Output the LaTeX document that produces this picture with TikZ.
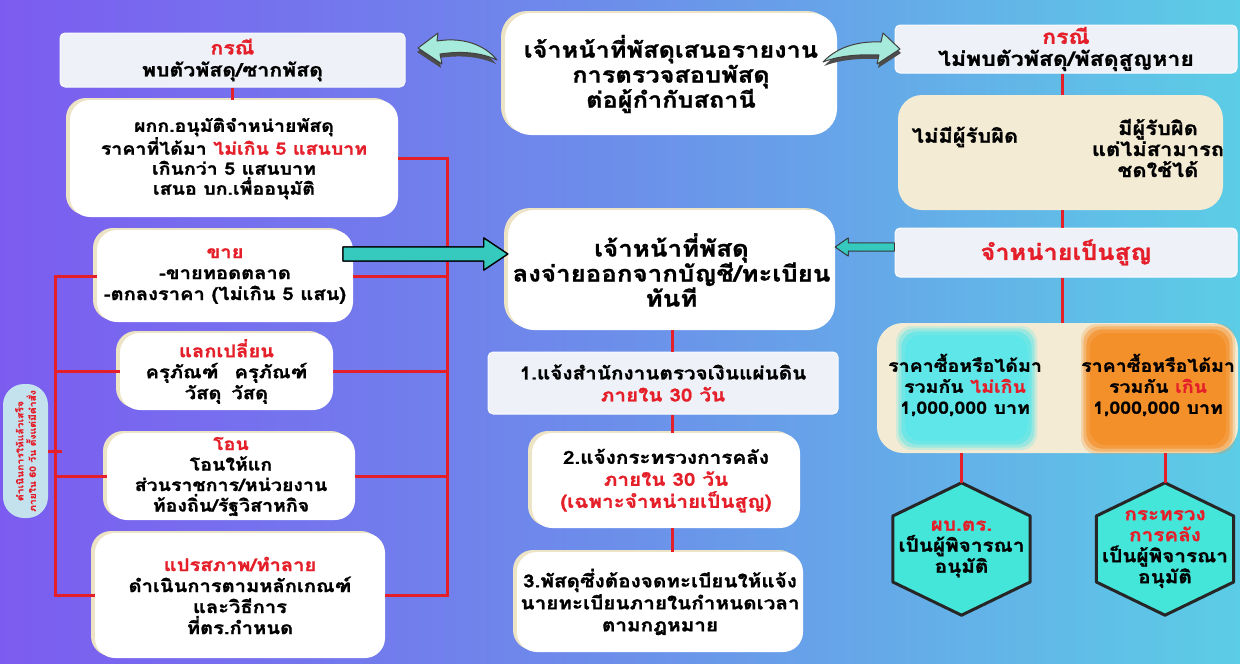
\documentclass[tikz,border=0pt]{standalone}
\usepackage{fontspec}
\newfontfamily\thai[Script=Thai, FakeStretch=1.15, BoldFeatures={FakeBold=1.2}]{Loma}
\usetikzlibrary{shadows,calc}
\definecolor{rd}{HTML}{E51F2A}
\definecolor{bgL}{HTML}{7C5CF0}
\definecolor{bgM}{HTML}{6C8FEA}
\definecolor{bgR}{HTML}{5CCDE6}
\definecolor{cream}{HTML}{EDE4C6}
\definecolor{lite}{HTML}{EEF2F8}
\definecolor{beige}{HTML}{F3EBD3}
\definecolor{tealA}{HTML}{A6EADB}
\definecolor{tealB}{HTML}{36C9BE}
\definecolor{hexc}{HTML}{45E6DA}
\definecolor{pillc}{HTML}{C3E2EE}
\definecolor{blobc}{HTML}{5EE6E8}
\definecolor{blobo}{HTML}{F4902A}
\newcommand{\fs}[2]{\fontsize{#1}{#2}\selectfont}
\begin{document}
\begin{tikzpicture}[x=1pt,y=-1pt,
  every node/.style={font=\thai\bfseries, align=center, text=black, inner sep=0pt},
  wbox/.style={fill=white, rounded corners=20pt,
     drop shadow={shadow xshift=-4pt, shadow yshift=2pt, fill=cream, opacity=1}},
  lbox/.style={fill=lite, draw=white!70!lite, line width=1pt, rounded corners=5pt},
  bbox/.style={fill=beige, rounded corners=24pt},
  redl/.style={draw=rd, line width=3pt},
  curarrow/.style={fill=tealA, draw=black!75, line width=1pt, line join=round},
]
\shade[left color=bgL, right color=bgR, middle color=bgM] (0,0) rectangle (1240,664);
\useasboundingbox (0,0) rectangle (1240,664);

% ---------- left column ----------
\node[lbox, minimum width=345, minimum height=54, font=\thai\bfseries\fs{18.5}{22}] (L1) at (232.5,60)
  {\textcolor{rd}{กรณี}\\พบตัวพัสดุ/ซากพัสดุ};
\node[wbox, minimum width=328, minimum height=117, font=\thai\bfseries\fs{17}{20}] (L2) at (234,158.5)
  {ผกก.อนุมัติจำหน่ายพัสดุ\\ราคาที่ได้มา \textcolor{rd}{ไม่เกิน 5 แสนบาท}\\เกินกว่า 5 แสนบาท\\เสนอ บก.เพื่ออนุมัติ};
\node[wbox, minimum width=256, minimum height=92, font=\thai\bfseries\fs{17.5}{21}] (Ls) at (225,276)
  {\textcolor{rd}{ขาย}\\-ขายทอดตลาด\\-ตกลงราคา (ไม่เกิน 5 แสน)};
\node[wbox, minimum width=213, minimum height=77, font=\thai\bfseries\fs{17.5}{21}] (Le) at (226.5,371.5)
  {\textcolor{rd}{แลกเปลี่ยน}\\ครุภัณฑ์\hspace{16pt}ครุภัณฑ์\\วัสดุ\hspace{10pt}วัสดุ};
\node[wbox, minimum width=248, minimum height=87, font=\thai\bfseries\fs{17}{20.5}] (Lt) at (231,476.5)
  {\textcolor{rd}{โอน}\\โอนให้แก\\ส่วนราชการ/หน่วยงาน\\ท้องถิ่น/รัฐวิสาหกิจ};
\node[wbox, minimum width=290, minimum height=125, font=\thai\bfseries\fs{17.5}{21}] (Ld) at (240,595.5)
  {\textcolor{rd}{แปรสภาพ/ทำลาย}\\ดำเนินการตามหลักเกณฑ์\\และวิธีการ\\ที่ตร.กำหนด};
\node[fill=pillc, rounded corners=21pt, rotate=90, minimum width=134, minimum height=45,
      text=rd, font=\thai\bfseries\fs{9}{12.5}] (pill) at (25.5,451)
  {ดำเนินการให้แล้วเสร็จ\\ภายใน 60 วัน ตั้งแต่มีคำสั่ง};

% red connectors left
\draw[redl] (L1.south) -- (L1.south |- L2.north);
\coordinate (bR) at (447,0);
\coordinate (bL) at (55,0);
\draw[redl] (L2.east) -| (bR |- Ld.east) -- (Ld.east);
\draw[redl] (Ls.east) -- (bR |- Ls.east);
\draw[redl] (Le.east) -- (bR |- Le.east);
\draw[redl] (Lt.east) -- (bR |- Lt.east);
\draw[redl] (Ls.west) -| (bL |- Ld.west) -- (Ld.west);
\draw[redl] (Le.west) -- (bL |- Le.west);
\draw[redl] (Lt.west) -- (bL |- Lt.west);
\draw[redl] (pill.south) -- ++(14,0);

% ---------- centre column ----------
\node[wbox, rounded corners=26pt, minimum width=332, minimum height=122, font=\thai\bfseries\fs{22}{25}] (C1) at (671,74)
  {เจ้าหน้าที่พัสดุเสนอรายงาน\\การตรวจสอบพัสดุ\\ต่อผู้กำกับสถานี};
\node[wbox, rounded corners=26pt, minimum width=327, minimum height=120, font=\thai\bfseries\fs{22.5}{25}] (C2) at (671.5,270)
  {เจ้าหน้าที่พัสดุ\\ลงจ่ายออกจากบัญชี/ทะเบียน\\ทันที};
\node[lbox, minimum width=350, minimum height=62, font=\thai\bfseries\fs{18}{22}] (C3) at (663,383)
  {1.แจ้งสำนักงานตรวจเงินแผ่นดิน\\\textcolor{rd}{ภายใน 30 วัน}};
\node[wbox, minimum width=268, minimum height=95, font=\thai\bfseries\fs{18}{22}] (C4) at (666,480.5)
  {2.แจ้งกระทรวงการคลัง\\\textcolor{rd}{ภายใน 30 วัน}\\\textcolor{rd}{(เฉพาะจำหน่ายเป็นสูญ)}};
\node[wbox, minimum width=286, minimum height=100, font=\thai\bfseries\fs{18}{22}] (C5) at (660,602)
  {3.พัสดุซึ่งต้องจดทะเบียนให้แจ้ง\\นายทะเบียนภายในกำหนดเวลา\\ตามกฎหมาย};
\coordinate (cx) at (672,0);
\draw[redl] (cx |- C2.south) -- (cx |- C3.north);
\draw[redl] (cx |- C3.south) -- (cx |- C4.north);
\draw[redl] (cx |- C4.south) -- (cx |- C5.north);

% ---------- right column ----------
\node[lbox, minimum width=342, minimum height=48, font=\thai\bfseries\fs{20}{22}] (R1) at (1066,49)
  {\textcolor{rd}{กรณี}\\ไม่พบตัวพัสดุ/พัสดุสูญหาย};
\node[bbox, minimum width=325, minimum height=115] (R2) at (1060.5,152.5) {};
\node[font=\thai\bfseries\fs{19}{21}] (R2a) at (965,137) {ไม่มีผู้รับผิด};
\node[font=\thai\bfseries\fs{19}{21}] (R2b) at (1158,148) {มีผู้รับผิด\\แต่ไม่สามารถ\\ชดใช้ได้};
\node[lbox, minimum width=342, minimum height=49, text=rd, font=\thai\bfseries\fs{22}{24}] (R3) at (1066,252.5)
  {จำหน่ายเป็นสูญ};
\node[bbox, rounded corners=26pt, minimum width=361, minimum height=130] (R4) at (1057.5,388) {};
% fuzzy colour patches
\foreach \o in {0.25,0.45,0.7,1}{
  \pgfmathsetmacro{\g}{(1-\o)*12}
  \fill[blobc, opacity=\o, rounded corners=16pt] (905-\g,335-\g) rectangle (1028+\g,441+\g);
  \fill[blobo, opacity=\o, rounded corners=16pt] (1090-\g,333-\g) rectangle (1226+\g,445+\g);
}
\node[font=\thai\bfseries\fs{17}{21}] (R4a) at (965,385)
  {ราคาซื้อหรือได้มา\\รวมกัน \textcolor{rd}{ไม่เกิน}\\1,000,000 บาท};
\node[font=\thai\bfseries\fs{17}{21}] (R4b) at (1158,385)
  {ราคาซื้อหรือได้มา\\รวมกัน \textcolor{rd}{เกิน}\\1,000,000 บาท};

\coordinate (rx) at (1062,0);
\draw[redl] (rx |- R1.south) -- (rx |- R2.north);
\draw[redl] (rx |- R2.south) -- (rx |- R3.north);
\draw[redl] (rx |- R3.south) -- (rx |- R4.north);

% hexagons
\foreach \n/\xx in {hexL/961.5, hexR/1165}{
  \node[minimum width=137, minimum height=132] (\n) at (\xx,549) {};
  \fill[hexc, draw=black!85, line width=3pt, line join=round]
    (\n.north) -- ($(\n.east)+(0,-33)$) -- ($(\n.east)+(0,33)$) -- (\n.south)
    -- ($(\n.west)+(0,33)$) -- ($(\n.west)+(0,-33)$) -- cycle;
}
\node[font=\thai\bfseries\fs{18}{21}] at (hexL.center)
  {\textcolor{rd}{ผบ.ตร.}\\เป็นผู้พิจารณา\\อนุมัติ};
\node[font=\thai\bfseries\fs{18}{21}] at (hexR.center)
  {\textcolor{rd}{กระทรวง}\\\textcolor{rd}{การคลัง}\\เป็นผู้พิจารณา\\อนุมัติ};
\draw[redl] (hexL.north |- R4.south) -- (hexL.north);
\draw[redl] (hexR.north |- R4.south) -- (hexR.north);

% ---------- arrows ----------
% big arrow from sale box to centre box
\coordinate (aS) at (343,254);
\coordinate (aE) at (C2.west |- aS);
\foreach \dx/\dy/\col in {-3/4/black, 0/0/tealB}{
  \fill[\col, draw=black, line width=1.2pt, line join=round, shift={(\dx,\dy)}]
    (aS) ++(0,-7) -- ($(aE)+(-24,-7)$) -- ($(aE)+(-24,-16)$) -- (aE)
    -- ($(aE)+(-24,16)$) -- ($(aE)+(-24,7)$) -- ($(aS)+(0,7)$) -- cycle;
}
% small arrow from write-off box to centre box
\coordinate (bS) at (R3.west |- 0,247);
\coordinate (bE) at (C2.east |- bS);
\foreach \dx/\dy/\col in {-2/3/black!80, 0/0/tealB}{
  \fill[\col, draw=black!80, line width=0.8pt, line join=round, shift={(\dx,\dy)}]
    (bS) ++(0,-4) -- ($(bE)+(13,-4)$) -- ($(bE)+(13,-9)$) -- (bE)
    -- ($(bE)+(13,9)$) -- ($(bE)+(13,4)$) -- ($(bS)+(0,4)$) -- cycle;
}
% curved arrows from top centre box
\fill[black!70, shift={(-1,4)}]
  (418,48) -- (438,33) -- (437,41) .. controls (462,37) and (484,44) .. (497,60)
  .. controls (480,52) and (460,51) .. (440,54) -- (442,64) -- cycle;
\filldraw[curarrow]
  (418,48) -- (438,33) -- (437,41) .. controls (462,37) and (484,44) .. (497,60)
  .. controls (480,52) and (460,51) .. (440,54) -- (442,64) -- cycle;
\fill[black!70, shift={(1,4)}]
  (900,49) -- (877,64) -- (879,55) .. controls (858,54) and (838,56) .. (823,62)
  .. controls (838,46) and (860,41) .. (881,42) -- (883,33) -- cycle;
\filldraw[curarrow]
  (900,49) -- (877,64) -- (879,55) .. controls (858,54) and (838,56) .. (823,62)
  .. controls (838,46) and (860,41) .. (881,42) -- (883,33) -- cycle;
\end{tikzpicture}
\end{document}
